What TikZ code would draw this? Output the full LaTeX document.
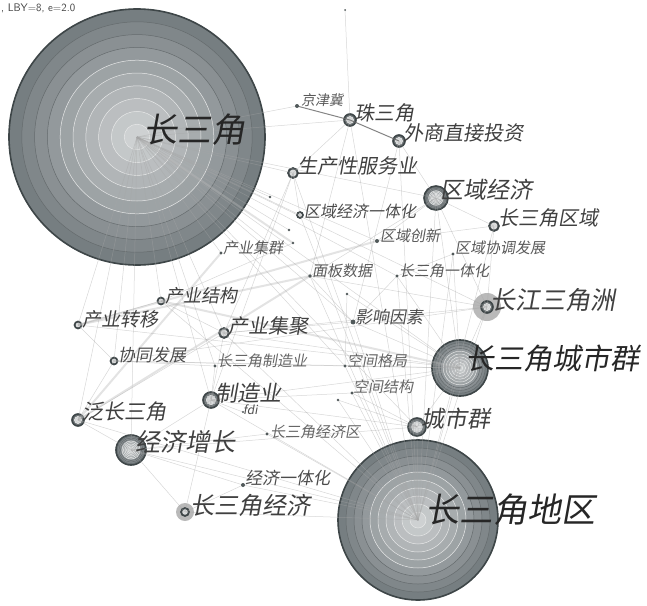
\documentclass[tikz,border=0pt]{standalone}
\usepackage{fontspec}
\usepackage{xcolor}
\newfontfamily\cjk[FakeSlant=0.18]{Noto Sans CJK SC}
\definecolor{ringgray}{RGB}{92,101,105}
\definecolor{ringdark}{RGB}{62,70,72}

% tree-ring keyword circle: centre name, radius
\newcommand\kwring[2]{%
  \foreach \i in {0,...,9}{%
    \pgfmathsetmacro\rr{#2*(1-\i/10)}%
    \pgfmathtruncatemacro\pc{84-6*\i}%
    \ifnum\i<4
      \filldraw[fill=ringgray!\pc!white, draw=ringdark!80, line width=0.5pt] (#1) circle[radius=\rr];
    \else
      \filldraw[fill=ringgray!\pc!white, draw=white!85!ringgray, line width=0.5pt] (#1) circle[radius=\rr];
    \fi
  }%
  \draw[ringdark, line width=1.6pt] (#1) circle[radius=#2];
}
% light halo round a small ring
\newcommand\kwhalo[3]{%
  \fill[gray!55] (#1) circle[radius=#2];
  \kwring{#1}{#3}
}

\begin{document}
\begin{tikzpicture}[x=1pt, y=-1pt,
    lab/.style = {font=\cjk\fontsize{#1}{#1}\selectfont, anchor=west, inner sep=0pt, text=black!75},
    edge/.style = {draw=gray!70, line width=0.5pt, opacity=0.45},
    wide/.style = {draw=gray!55, line width=2pt, opacity=0.4},
    hard/.style = {draw=gray!80!black, line width=1pt, opacity=0.8},
    dot/.style = {fill=ringdark!90}]
    \useasboundingbox (0,0) rectangle (647,605);

    % keyword centres
    \coordinate (cs) at (137,137);
    \coordinate (dq) at (418,520);
    \coordinate (csq) at (460,368);
    \coordinate (cjsjz) at (487,307);
    \coordinate (qyjj) at (436,198);
    \coordinate (csqy) at (494,226);
    \coordinate (wszj) at (399,141);
    \coordinate (zsj) at (350,120);
    \coordinate (jjj) at (297,106);
    \coordinate (scx) at (293,173);
    \coordinate (qyyth) at (300,215);
    \coordinate (qycx) at (377,241);
    \coordinate (qyxt) at (453,254);
    \coordinate (cyjq) at (221,253);
    \coordinate (mbsj) at (310,276);
    \coordinate (csyth) at (397,276);
    \coordinate (cyjg) at (161,301);
    \coordinate (cyzy) at (78,325);
    \coordinate (cyjj) at (224,333);
    \coordinate (yxys) at (353,322);
    \coordinate (xtfz) at (114,361);
    \coordinate (zzysj) at (215,366);
    \coordinate (kjgj) at (345,366);
    \coordinate (kjjg) at (352,393);
    \coordinate (fcsj) at (78,420);
    \coordinate (zzy) at (211,400);
    \coordinate (fdi) at (243,412);
    \coordinate (csqt) at (417,427);
    \coordinate (jjzz) at (131,450);
    \coordinate (csjjq) at (267,434);
    \coordinate (jjyth) at (243,485);
    \coordinate (csjj) at (185,512);
    \coordinate (u1) at (270,197);
    \coordinate (u2) at (289,230);
    \coordinate (u3) at (293,243);
    \coordinate (u4) at (347,294);
    \coordinate (u5) at (338,400);
    \coordinate (u6) at (345,10);

    % circles
    \kwring{cs}{128}
    \kwring{dq}{80}
    \kwring{csq}{28}
    \kwhalo{cjsjz}{14}{6}
    \kwring{qyjj}{12}
    \kwring{jjzz}{15}
    \kwring{csqt}{9}
    \kwring{zzy}{8}
    \kwhalo{csjj}{9}{4}
    \kwring{fcsj}{6}
    \kwring{zsj}{6}
    \kwring{wszj}{6}
    \kwring{csqy}{5}
    \kwring{scx}{5}
    \kwring{cyjj}{5}
    \kwring{cyjg}{3.5}
    \kwring{cyzy}{3.5}
    \kwring{xtfz}{3.5}
    \kwring{qyyth}{3}

    % co-occurrence links
    \draw[wide] (cyzy) -- (mbsj);
    \draw[wide] (cyzy) -- (qycx);
    \draw[wide] (fcsj) -- (cyjq);
    \draw[wide] (fcsj) -- (mbsj);
    \draw[wide] (cs) -- (u3);
    \draw[wide] (cyjg) -- (csq);
    \draw[hard] (jjj) -- (zsj);
    \draw[hard] (zsj) -- (wszj);
    \draw[edge] (cs) -- (jjj);
    \draw[edge] (cs) -- (zsj);
    \draw[edge] (cs) -- (scx);
    \draw[edge] (cs) -- (cyjq);
    \draw[edge] (cs) -- (cyjg);
    \draw[edge] (cs) -- (cyzy);
    \draw[edge] (cs) -- (cyjj);
    \draw[edge] (cs) -- (qyjj);
    \draw[edge] (cs) -- (csq);
    \draw[edge] (cs) -- (csqt);
    \draw[edge] (cs) -- (yxys);
    \draw[edge] (cs) -- (mbsj);
    \draw[edge] (cs) -- (csyth);
    \draw[edge] (cs) -- (zzy);
    \draw[edge] (cs) -- (jjzz);
    \draw[edge] (cs) -- (fcsj);
    \draw[edge] (cs) -- (xtfz);
    \draw[edge] (cs) -- (zzysj);
    \draw[edge] (cs) -- (qycx);
    \draw[edge] (cs) -- (kjgj);
    \draw[edge] (cs) -- (u1);
    \draw[edge] (cs) -- (u2);
    \draw[edge] (cs) -- (qyyth);
    \draw[edge] (cs) -- (cjsjz);
    \draw[edge] (dq) -- (csq);
    \draw[edge] (dq) -- (csqt);
    \draw[edge] (dq) -- (cjsjz);
    \draw[edge] (dq) -- (qyjj);
    \draw[edge] (dq) -- (csjj);
    \draw[edge] (dq) -- (jjyth);
    \draw[edge] (dq) -- (csjjq);
    \draw[edge] (dq) -- (zzy);
    \draw[edge] (dq) -- (cyjj);
    \draw[edge] (dq) -- (yxys);
    \draw[edge] (dq) -- (kjgj);
    \draw[edge] (dq) -- (kjjg);
    \draw[edge] (dq) -- (wszj);
    \draw[edge] (dq) -- (zsj);
    \draw[edge] (dq) -- (scx);
    \draw[edge] (dq) -- (qyxt);
    \draw[edge] (dq) -- (csqy);
    \draw[edge] (dq) -- (jjzz);
    \draw[edge] (dq) -- (fcsj);
    \draw[edge] (dq) -- (cyjg);
    \draw[edge] (dq) -- (mbsj);
    \draw[edge] (dq) -- (csyth);
    \draw[edge] (dq) -- (qyyth);
    \draw[edge] (dq) -- (u5);
    \draw[edge] (zsj) -- (scx);
    \draw[edge] (zsj) -- (mbsj);
    \draw[edge] (zsj) -- (u6);
    \draw[edge] (wszj) -- (qyjj);
    \draw[edge] (wszj) -- (yxys);
    \draw[edge] (qyjj) -- (csqy);
    \draw[edge] (qyjj) -- (cjsjz);
    \draw[edge] (qyjj) -- (csq);
    \draw[edge] (qyjj) -- (qycx);
    \draw[edge] (qyjj) -- (mbsj);
    \draw[edge] (csqy) -- (qycx);
    \draw[edge] (csqy) -- (cjsjz);
    \draw[edge] (qyxt) -- (csyth);
    \draw[edge] (qyxt) -- (csq);
    \draw[edge] (cjsjz) -- (csq);
    \draw[edge] (cjsjz) -- (cyjj);
    \draw[edge] (cjsjz) -- (mbsj);
    \draw[edge] (cjsjz) -- (xtfz);
    \draw[edge] (csq) -- (yxys);
    \draw[edge] (csq) -- (kjgj);
    \draw[edge] (csq) -- (cyjj);
    \draw[edge] (csq) -- (cyzy);
    \draw[edge] (csq) -- (xtfz);
    \draw[edge] (csq) -- (zzy);
    \draw[edge] (csq) -- (csqt);
    \draw[edge] (csq) -- (kjjg);
    \draw[edge] (csq) -- (csyth);
    \draw[edge] (csq) -- (u4);
    \draw[edge] (csqt) -- (zzy);
    \draw[edge] (csqt) -- (jjzz);
    \draw[edge] (csqt) -- (kjjg);
    \draw[edge] (csqt) -- (u5);
    \draw[edge] (cyzy) -- (cyjg);
    \draw[edge] (cyzy) -- (xtfz);
    \draw[edge] (fcsj) -- (jjzz);
    \draw[edge] (fcsj) -- (xtfz);
    \draw[edge] (fcsj) -- (cyjj);
    \draw[edge] (cyjg) -- (cyjj);
    \draw[edge] (cyjg) -- (u3);
    \draw[edge] (cyjj) -- (zzy);
    \draw[edge] (cyjj) -- (yxys);
    \draw[edge] (cyjj) -- (scx);
    \draw[edge] (zzy) -- (jjzz);
    \draw[edge] (zzy) -- (fdi);
    \draw[edge] (zzy) -- (zzysj);
    \draw[edge] (zzy) -- (kjjg);
    \draw[edge] (zzy) -- (scx);
    \draw[edge] (jjzz) -- (csjjq);
    \draw[edge] (jjzz) -- (csjj);
    \draw[edge] (jjzz) -- (jjyth);
    \draw[edge] (csjj) -- (jjyth);
    \draw[edge] (csjj) -- (zzy);
    \draw[edge] (scx) -- (qyyth);
    \draw[edge] (xtfz) -- (zzysj);
    \draw[edge] (xtfz) -- (kjgj);
    \draw[edge] (mbsj) -- (yxys);
    \draw[edge] (u4) -- (kjgj);
    \draw[edge] (csyth) -- (yxys);

    % small keyword dots
    \foreach \p/\r in {jjj/2, qycx/2, qyxt/1.6, cyjq/1.6, mbsj/1.8, csyth/1.6,
        yxys/2.4, zzysj/1.6, kjgj/1.6, kjjg/1.6, fdi/1.2, csjjq/1.6, jjyth/2,
        u1/1.3, u2/1.3, u3/1.3, u4/1.3, u5/1.3, u6/1}
        \fill[dot] (\p) circle[radius=\r];

    % labels
    \node[lab=34, text=black!85] (Lcs) at (143,130) {长三角};
    \node[lab=34, text=black!85] (Ldq) at (425,510) {长三角地区};
    \node[lab=29, text=black!85] (Lcsq) at (465,358) {长三角城市群};
    \node[lab=25] (Lcjsjz) at (490,300) {长江三角洲};
    \node[lab=23] (Lqyjj) at (440,190) {区域经济};
    \node[lab=20] (Lcsqy) at (498,218) {长三角区域};
    \node[lab=20] (Lwszj) at (403,133) {外商直接投资};
    \node[lab=20] (Lzsj) at (354,113) {珠三角};
    \node[lab=14, text=black!65] (Ljjj) at (301,100) {京津冀};
    \node[lab=20] (Lscx) at (297,166) {生产性服务业};
    \node[lab=16, text=black!70] (Lqyyth) at (304,211) {区域经济一体化};
    \node[lab=15, text=black!65] (Lqycx) at (380,236) {区域创新};
    \node[lab=15, text=black!65] (Lqyxt) at (455,248) {区域协调发展};
    \node[lab=15, text=black!65] (Lcyjq) at (223,248) {产业集群};
    \node[lab=15, text=black!65] (Lmbsj) at (312,271) {面板数据};
    \node[lab=15, text=black!65] (Lcsyth) at (399,271) {长三角一体化};
    \node[lab=18] (Lcyjg) at (165,296) {产业结构};
    \node[lab=19] (Lcyzy) at (82,319) {产业转移};
    \node[lab=20] (Lcyjj) at (228,326) {产业集聚};
    \node[lab=17, text=black!70] (Lyxys) at (355,317) {影响因素};
    \node[lab=17, text=black!70] (Lxtfz) at (118,355) {协同发展};
    \node[lab=15, text=black!60] (Lzzysj) at (217,361) {长三角制造业};
    \node[lab=15, text=black!60] (Lkjgj) at (347,361) {空间格局};
    \node[lab=15, text=black!60] (Lkjjg) at (353,387) {空间结构};
    \node[lab=21] (Lfcsj) at (82,412) {泛长三角};
    \node[lab=22] (Lzzy) at (215,393) {制造业};
    \node[lab=12, text=black!70] (Lfdi) at (243,410) {fdi};
    \node[lab=23] (Lcsqt) at (421,419) {城市群};
    \node[lab=25] (Ljjzz) at (135,442) {经济增长};
    \node[lab=15, text=black!60] (Lcsjjq) at (270,432) {长三角经济区};
    \node[lab=17, text=black!70] (Ljjyth) at (245,478) {经济一体化};
    \node[lab=24] (Lcsjj) at (190,505) {长三角经济};

    \node[font=\sffamily\fontsize{11}{11}\selectfont, anchor=west, inner sep=0pt, text=black!75] (hdr) at (1,8) {, LBY=8, e=2.0};
\end{tikzpicture}
\end{document}
